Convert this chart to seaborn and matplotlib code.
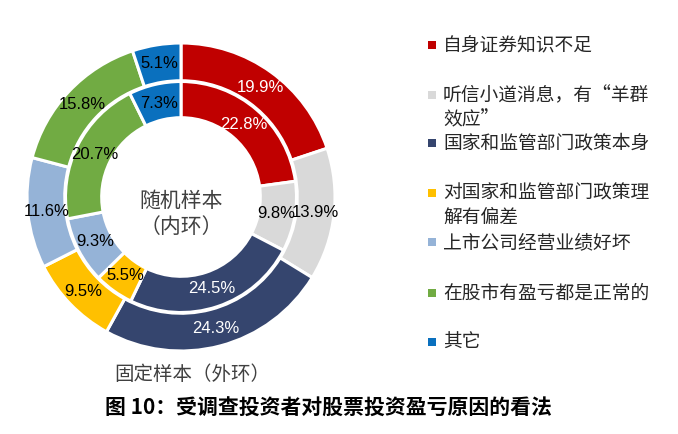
import numpy as np
import matplotlib
matplotlib.use("Agg")
import matplotlib.pyplot as plt
import seaborn as sns

categories = ["自身证券知识不足", "听信小道消息，有“羊群\n效应”", "国家和监管部门政策本身",
              "对国家和监管部门政策理\n解有偏差", "上市公司经营业绩好坏", "在股市有盈亏都是正常的", "其它"]
outer_vals = [19.9, 13.9, 24.3, 9.5, 11.6, 15.8, 5.1]   # 固定样本（外环）
inner_vals = [22.8, 9.8, 24.5, 5.5, 9.3, 20.7, 7.3]     # 随机样本（内环）
colors = ["#C00000", "#D9D9D9", "#35456E", "#FFC000", "#95B3D7", "#71AB43", "#0A70BE"]
label_colors = ["white", "black", "white", "black", "black", "black", "black"]
title = "图 10：受调查投资者对股票投资盈亏原因的看法"

sns.set_theme(style="white")
plt.rcParams['font.family'] = ['Noto Sans CJK SC', 'DejaVu Sans']
palette = sns.color_palette(colors)

W, H = 678, 434
fig = plt.figure(figsize=(W / 100, H / 100), dpi=100)
fig.patch.set_facecolor("white")

cx, cy, R = 181, 197, 154
ax = fig.add_axes([(cx - R) / W, (H - cy - R) / H, 2 * R / W, 2 * R / H])

outer_w, _ = ax.pie(outer_vals, colors=palette, startangle=90, counterclock=False,
                    radius=1.0, wedgeprops=dict(width=0.245, edgecolor="white", linewidth=2.2))
inner_w, _ = ax.pie(inner_vals, colors=palette, startangle=90, counterclock=False,
                    radius=0.75, wedgeprops=dict(width=0.235, edgecolor="white", linewidth=2.2))
ax.set_xlim(-1, 1)
ax.set_ylim(-1, 1)
ax.set_aspect("equal")
ax.axis("off")

lab_font = dict(family=["Liberation Sans", "DejaVu Sans"], fontsize=12, ha="center", va="center")
for wedges, vals, r in [(outer_w, outer_vals, 0.88), (inner_w, inner_vals, 0.625)]:
    for w, v, lc in zip(wedges, vals, label_colors):
        ang = np.deg2rad((w.theta1 + w.theta2) / 2)
        ax.text(r * np.cos(ang), r * np.sin(ang), f"{v:.1f}%", color=lc, **lab_font)

ax.text(0, -0.11, "随机样本\n（内环）", ha="center", va="center", fontsize=15,
        color="#404040", linespacing=1.2)

fig.text(192 / W, 1 - 375 / H, "固定样本（外环）", ha="center", va="center",
         fontsize=14, color="#404040")

# legend
ys = [45, 95, 143, 193, 242, 293, 342]
for cat, col, y in zip(categories, palette, ys):
    fig.patches.append(plt.Rectangle(((432 - 4) / W, 1 - (y + 4) / H), 8 / W, 8 / H,
                                     transform=fig.transFigure, facecolor=col, edgecolor="none"))
    fig.text(443 / W, 1 - (y - 10) / H, cat, ha="left", va="top", fontsize=13.5,
             color="#262626", linespacing=1.2)

fig.text(328 / W, 1 - 408 / H, title, ha="center", va="center", fontsize=15,
         fontweight="bold", color="black")

fig.savefig("out.png", dpi=100, facecolor="white")
